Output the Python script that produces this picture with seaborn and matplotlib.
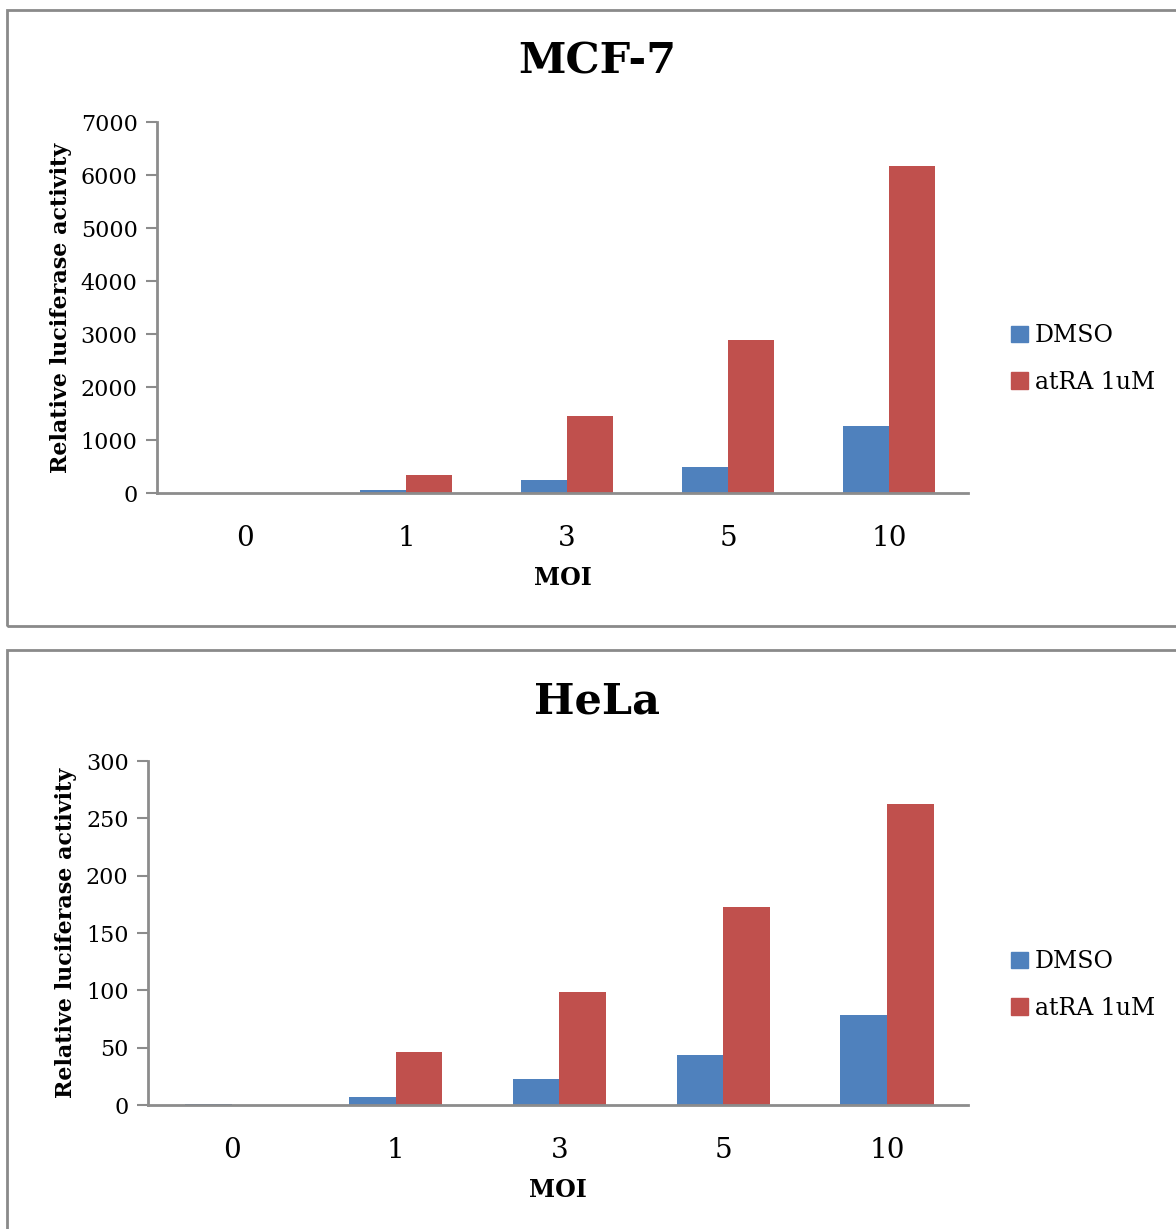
import matplotlib
matplotlib.use("Agg")
import matplotlib.pyplot as plt
import matplotlib.patches as mpatches
import seaborn as sns
import pandas as pd

moi = ["0", "1", "3", "5", "10"]
series = ["DMSO", "atRA 1uM"]
mcf7_dmso = [5, 50, 245, 490, 1260]
mcf7_atra = [3, 340, 1450, 2890, 6170]
hela_dmso = [1.2, 7, 22.7, 43.6, 78.5]
hela_atra = [0.3, 46, 98.6, 172.8, 262.7]
mcf7_ticks = [0, 1000, 2000, 3000, 4000, 5000, 6000, 7000]
hela_ticks = [0, 50, 100, 150, 200, 250, 300]

colors = ["#4F81BD", "#C0504D"]
axis_gray = "#8C8C8C"

sns.set_theme(style="white")
plt.rcParams["font.family"] = ["DejaVu Serif"]
plt.rcParams["text.color"] = "black"
plt.rcParams["axes.labelcolor"] = "black"

W, H = 1176, 1229
fig = plt.figure(figsize=(W / 100, H / 100), dpi=100)

# frame boxes (Excel chart areas)
fig.add_artist(mpatches.Rectangle((7 / W, 1 - 626 / H), 1.2, (626 - 10) / H,
                                  transform=fig.transFigure, fill=False,
                                  edgecolor="#8A8A8A", linewidth=2))
fig.add_artist(mpatches.Rectangle((7 / W, -0.1), 1.2, 0.1 + (1229 - 650) / H,
                                  transform=fig.transFigure, fill=False,
                                  edgecolor="#8A8A8A", linewidth=2))


def make_panel(rect, dmso, atra, ticks, xlim, title, title_y, legend_y):
    ax = fig.add_axes(rect)
    df = pd.DataFrame({
        "MOI": moi * 2,
        "value": list(dmso) + list(atra),
        "series": [series[0]] * len(moi) + [series[1]] * len(moi),
    })
    sns.barplot(data=df, x="MOI", y="value", hue="series", order=moi,
                hue_order=series, palette=colors, width=0.57, saturation=1,
                ax=ax, errorbar=None, dodge=True, gap=0, linewidth=0,
                edgecolor="none")
    ax.set_ylim(ticks[0], ticks[-1])
    ax.set_yticks(ticks)
    ax.set_xlim(*xlim)
    for s in ["top", "right"]:
        ax.spines[s].set_visible(False)
    for s in ["left", "bottom"]:
        ax.spines[s].set_color(axis_gray)
        ax.spines[s].set_linewidth(2)
    ax.tick_params(axis="y", which="major", left=True, length=8, width=1.5,
                   color=axis_gray, labelcolor="black", labelsize=16, pad=6,
                   direction="out")
    ax.tick_params(axis="x", bottom=False, labelsize=20, pad=17,
                   labelcolor="black")
    ax.set_xlabel("MOI", fontsize=17, fontweight="bold", labelpad=10)
    ax.set_ylabel("Relative luciferase activity", fontsize=16,
                  fontweight="bold", labelpad=6)
    ax.grid(False)
    ax.legend_.remove()
    handles = [mpatches.Patch(color=c, label=l) for c, l in zip(colors, series)]
    fig.legend(handles=handles, loc="center left",
               bbox_to_anchor=(1002 / W, 1 - legend_y / H), frameon=False,
               fontsize=17, handlelength=0.7, handleheight=0.7,
               handletextpad=0.3, labelspacing=1.0, borderaxespad=0)
    fig.text(597 / W, 1 - title_y / H, title, ha="center", va="center",
             fontsize=31, fontweight="bold")
    return ax


make_panel([157 / W, 1 - 493 / H, (968 - 157) / W, (493 - 122) / H],
           mcf7_dmso, mcf7_atra, mcf7_ticks, (-0.547, 4.49), "MCF-7", 62, 359)
make_panel([148 / W, 1 - 1105 / H, (968 - 148) / W, (1105 - 761) / H],
           hela_dmso, hela_atra, hela_ticks, (-0.512, 4.494), "HeLa", 702, 985)

fig.savefig("out.png", dpi=100)
